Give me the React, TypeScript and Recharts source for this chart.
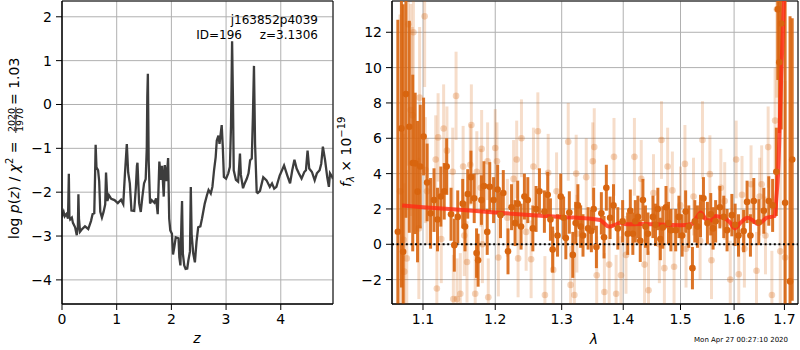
import React from 'react';
import {
  LineChart,
  ComposedChart,
  Line,
  Scatter,
  ErrorBar,
  XAxis,
  YAxis,
  CartesianGrid,
  ReferenceLine,
  ReferenceArea
} from 'recharts';

// ---- left panel: log p(z) ----
const zValues = [
  0, 0.01, 0.03, 0.05, 0.08, 0.11, 0.125, 0.135, 0.15, 0.18, 0.2, 0.24, 0.27, 0.29, 0.3, 0.31, 0.33, 0.36,
  0.42, 0.48, 0.53, 0.56, 0.59, 0.605, 0.615, 0.63, 0.66, 0.68, 0.7, 0.73, 0.76, 0.79, 0.805, 0.815, 0.83, 0.86,
  0.9, 0.96, 1.02, 1.08, 1.12, 1.15, 1.175, 1.185, 1.21, 1.24, 1.27, 1.32, 1.35, 1.37, 1.38, 1.41, 1.44, 1.47,
  1.5, 1.53, 1.55, 1.56, 1.57, 1.585, 1.61, 1.64, 1.69, 1.72, 1.75, 1.78, 1.81, 1.83, 1.86, 1.88, 1.91, 1.94,
  1.96, 1.98, 2.01, 2.03, 2.05, 2.08, 2.13, 2.145, 2.165, 2.185, 2.195, 2.21, 2.235, 2.26, 2.29, 2.31, 2.34, 2.355,
  2.37, 2.4, 2.43, 2.46, 2.49, 2.53, 2.56, 2.61, 2.65, 2.68, 2.72, 2.75, 2.78, 2.81, 2.83, 2.86, 2.88, 2.92,
  2.94, 2.96, 3.0, 3.04, 3.07, 3.09, 3.11, 3.125, 3.14, 3.18, 3.22, 3.24, 3.254, 3.27, 3.31, 3.34, 3.38, 3.41,
  3.44, 3.47, 3.49, 3.51, 3.53, 3.56, 3.58, 3.62, 3.68, 3.74, 3.8, 3.84, 3.88, 3.92, 3.98, 4.06, 4.12, 4.17,
  4.21, 4.25, 4.29, 4.33, 4.38, 4.43, 4.46, 4.49, 4.52, 4.57, 4.62, 4.66, 4.71, 4.74, 4.77, 4.81, 4.85, 4.88,
  4.9, 4.94, 4.955
];
const logPz = [
  -2.48, -2.52, -2.45, -2.55, -2.5, -2.6, -1.58, -2.55, -2.62, -2.58, -2.7, -2.8, -2.98, -2.8, -2.05, -2.6, -2.9, -2.85,
  -2.78, -2.84, -2.66, -2.5, -2.48, -1.6, -0.92, -1.43, -1.5, -1.75, -2.45, -2.58, -2.45, -2.28, -1.55, -1.8, -2.2, -2.07,
  -2.15, -2.18, -2.25, -2.17, -2.27, -1.6, -1.1, -0.9, -1.55, -1.8, -2.42, -2.43, -1.9, -1.4, -1.33, -2.25, -2.45, -2.1,
  -1.8, -1.7, -1.0, 0.2, 0.7, -1.3, -2.26, -2.18, -2.24, -2.14, -2.5, -1.3, -1.72, -1.4, -2.1, -1.38, -1.75, -1.22,
  -2.6, -2.87, -2.95, -3.42, -3.28, -3.03, -3.05, -3.48, -3.67, -2.6, -2.2, -3.4, -3.67, -3.75, -3.74, -3.56, -3.35, -1.88,
  -2.96, -3.4, -3.6, -3.13, -2.8, -2.78, -2.6, -2.26, -2.07, -1.95, -2.03, -1.88, -1.5, -1.2, -0.82, -0.71, -0.9, -0.47,
  -0.97, -1.65, -1.69, -1.57, -1.42, -0.5, 1.44, 0.2, -1.5, -1.72, -1.76, -1.4, -1.12, -1.6, -1.91, -1.8, -1.69, -1.57,
  -1.27, -1.23, -0.3, 0.88, -0.9, -2.0, -2.02, -1.97, -1.66, -1.73, -1.88, -1.8, -1.92, -1.88, -1.62, -1.39, -1.62, -1.8,
  -1.5, -1.26, -1.46, -1.57, -1.69, -1.54, -1.5, -1.05, -1.46, -1.54, -1.73, -1.57, -1.5, -1.35, -0.96, -1.27, -1.66, -1.88,
  -1.57, -1.65, -1.7
];
const zTicks = [0, 1, 2, 3, 4];
const logPzTicks = [-4, -3, -2, -1, 0, 1, 2];

// ---- right panel: spectrum ----
// darker orange points (wavelength in microns, flux, 1-sigma error)
const darkWave = [
  1.0672, 1.0718, 1.074, 1.0776, 1.082, 1.0865, 1.0897, 1.0928, 1.0964, 1.1008, 1.1055, 1.1101, 1.1147, 1.1194,
  1.1239, 1.1285, 1.1318, 1.1378, 1.1423, 1.147, 1.1539, 1.1571, 1.1609, 1.1654, 1.17, 1.1733, 1.1755, 1.1802,
  1.1838, 1.1885, 1.1921, 1.1976, 1.2035, 1.2076, 1.2117, 1.2186, 1.2238, 1.229, 1.2329, 1.2379, 1.2429, 1.248,
  1.2556, 1.2605, 1.2656, 1.2732, 1.2783, 1.2825, 1.2859, 1.2935, 1.2985, 1.303, 1.3065, 1.312, 1.3175, 1.322,
  1.3256, 1.33, 1.3338, 1.342, 1.3473, 1.351, 1.3555, 1.3636, 1.368, 1.3718, 1.378, 1.3837, 1.3909, 1.399,
  1.4076, 1.412, 1.4163, 1.4205, 1.425, 1.429, 1.4336, 1.438, 1.4423, 1.451, 1.4555, 1.4596, 1.464, 1.4683,
  1.474, 1.4785, 1.4827, 1.4913, 1.4971, 1.503, 1.5093, 1.515, 1.5217, 1.526, 1.5309, 1.5365, 1.542, 1.5494,
  1.5556, 1.56, 1.5648, 1.5728, 1.5802, 1.5865, 1.5957, 1.602, 1.6085, 1.6185, 1.6252, 1.6318, 1.6384, 1.6483,
  1.6583, 1.6682, 1.676, 1.6835, 1.6865, 1.6895, 1.6935, 1.7014, 1.7115, 1.716
];
const darkFlux = [
  0.71, 6.56, -0.42, 8.5, 6.65, 4.6, 4.58, 2.98, 4.4, 6.1, 3.5, 1.75, 2.5, 1.4,
  2.7, 3.0, 4.4, 1.7, -0.05, 1.55, 2.3, 1.0, 2.85, 3.8, 2.6, -0.5, -0.9, 2.5,
  3.3, 0.7, 3.25, 2.5, 3.1, 1.65, 2.9, -0.4, 2.1, 1.2, 2.3, 1.0, 2.7, 2.5,
  0.9, 2.0, 3.0, 1.85, 2.8, 1.4, -0.3, 0.5, 2.7, 1.5, 0.35, 1.8, -0.6, 1.2,
  2.2, 1.0, 0.5, 0.9, 0.75, 2.0, -0.15, 1.75, 0.4, 3.2, 1.5, 2.2, 0.9, 1.3,
  0.6, 1.9, 0.6, 1.3, 1.55, 0.2, 2.5, 1.0, 0.6, 1.55, 1.1, 2.0, 0.3, 0.95,
  2.1, 1.2, 0.8, 0.8, 1.55, 0.5, 1.85, 1.0, -1.35, 1.3, 1.0, 1.6, 2.6, 1.2,
  1.7, 0.9, 1.3, 2.1, 1.55, 0.8, 1.65, 1.1, 0.5, 0.75, 2.4, 0.5, 2.45, 1.25,
  1.9, 2.45, 2.2, 4.1, 13.3, 10.3, 12.5, 2.35, -2.1, 4.8
];
const darkErr = [
  12, 9, 14, 7, 6, 5, 4, 4, 3.5, 2.2, 2.2, 2, 1.8, 1.8,
  1.7, 1.6, 1.6, 1.5, 1.5, 1.5, 1.4, 1.4, 1.4, 1.5, 1.4, 1.4, 1.5, 1.4,
  1.4, 1.3, 1.4, 1.3, 1.4, 1.3, 1.3, 1.3, 1.3, 1.3, 1.3, 1.3, 1.3, 1.3,
  1.3, 1.3, 1.3, 1.2, 1.3, 1.2, 1.3, 1.2, 1.3, 1.2, 1.2, 1.2, 1.3, 1.2,
  1.2, 1.2, 1.2, 1.2, 1.2, 1.2, 1.2, 1.2, 1.2, 1.3, 1.2, 1.2, 1.2, 1.2,
  1.2, 1.2, 1.2, 1.2, 1.2, 1.2, 1.2, 1.2, 1.2, 1.2, 1.2, 1.2, 1.2, 1.2,
  1.2, 1.2, 1.2, 1.2, 1.2, 1.2, 1.2, 1.2, 1.2, 1.2, 1.2, 1.2, 1.2, 1.2,
  1.2, 1.2, 1.2, 1.2, 1.2, 1.2, 1.2, 1.2, 1.2, 1.2, 1.2, 1.2, 1.3, 1.3,
  1.3, 1.4, 1.5, 2.5, 4, 4, 6, 12, 15, 8
];

// lighter orange points (second orientation)
const lightWave = [
  1.07, 1.0745, 1.0755, 1.0787, 1.0807, 1.0839, 1.086, 1.0874, 1.0945, 1.0955, 1.1022, 1.1032, 1.1054, 1.117,
  1.1185, 1.1202, 1.1245, 1.1277, 1.1322, 1.1401, 1.141, 1.1447, 1.146, 1.1506, 1.1545, 1.1561, 1.1599, 1.1645,
  1.166, 1.1714, 1.1737, 1.1793, 1.1805, 1.1816, 1.189, 1.19, 1.2, 1.2025, 1.2045, 1.2177, 1.2268, 1.2314,
  1.2335, 1.2385, 1.2455, 1.253, 1.2565, 1.2632, 1.274, 1.279, 1.2868, 1.292, 1.3103, 1.314, 1.32, 1.3229,
  1.324, 1.339, 1.3495, 1.352, 1.356, 1.3686, 1.3765, 1.3845, 1.3881, 1.3962, 1.4047, 1.419, 1.4307, 1.4364,
  1.4433, 1.452, 1.4623, 1.466, 1.4711, 1.4769, 1.4854, 1.4884, 1.5, 1.508, 1.51, 1.5237, 1.5358, 1.5402,
  1.554, 1.557, 1.5747, 1.582, 1.5926, 1.604, 1.609, 1.6153, 1.62, 1.633, 1.6438, 1.65, 1.654, 1.6616,
  1.667, 1.6745, 1.681, 1.6845, 1.6915, 1.7014
];
const lightFlux = [
  3.0, 0.25, -1.55, -0.8, 12.45, 7.6, 7.3, 12.0, 0.9, 8.3, 12.9, 4.2, 3.0, 4.8,
  -2.5, 6.05, 0.3, 6.55, 5.3, 4.1, -3.1, 8.4, -3.1, -2.8, 4.4, 0.5, -1.0, 4.5,
  6.75, -2.8, 4.1, 3.2, 5.4, 0.0, 4.7, -3.0, 5.45, 4.7, -0.75, 1.5, 3.7, 4.8,
  -0.8, 6.0, 0.7, -0.85, 4.4, 6.4, -2.87, 4.05, -1.45, 3.0, 5.8, -2.3, -2.87, 4.0,
  0.6, 3.8, 4.7, 5.5, -1.75, -2.7, -1.15, 4.95, -2.8, -1.75, -0.6, 4.95, 3.7, -1.15,
  -2.6, 2.9, 0.0, 5.9, -1.35, 4.4, 3.05, -1.27, 2.2, 4.55, -0.25, 2.7, 0.2, 5.9,
  3.97, -0.9, 3.2, 2.45, -2.0, 4.8, -1.7, 2.8, -0.25, 3.4, -1.5, 2.7, 3.4, 0.5,
  5.5, -2.87, 7.0, 13.3, -0.4, -0.75
];
const lightErr = [
  10, 6, 5, 5, 8, 6, 5, 6, 4, 4, 4, 3, 3, 2.5,
  2.5, 2.5, 2.5, 2.5, 2.5, 2.5, 2.5, 2.5, 2.3, 2.3, 2.3, 2.3, 2.3, 2.3,
  2.3, 2.3, 2.3, 2.2, 2.2, 2.2, 2.2, 2.2, 2.2, 2.2, 2.2, 2.2, 2.2, 2.2,
  2.2, 2.2, 2.2, 2.2, 2.2, 2.2, 2.2, 2.2, 2.2, 2.2, 2.2, 2.2, 2.2, 2.2,
  2.2, 2.2, 2.2, 2.2, 2.2, 2.2, 2.2, 2.2, 2.2, 2.2, 2.2, 2.2, 2.2, 2.2,
  2.2, 2.2, 2.2, 2.2, 2.2, 2.2, 2.2, 2.2, 2.2, 2.2, 2.2, 2.2, 2.2, 2.2,
  2.2, 2.2, 2.2, 2.2, 2.2, 2.2, 2.2, 2.2, 2.2, 2.2, 2.2, 2.2, 2.2, 2.2,
  2.3, 2.5, 3, 5, 8, 10
];

// best-fit model
const modelWave = [
  1.0727, 1.1, 1.15, 1.2, 1.25, 1.3, 1.3616, 1.368, 1.376, 1.386, 1.3962, 1.405, 1.43, 1.4636, 1.5, 1.5206,
  1.528, 1.5369, 1.548, 1.5565, 1.5645, 1.5725, 1.581, 1.5915, 1.6016, 1.612, 1.626, 1.6366, 1.6466, 1.6555,
  1.6635, 1.6806, 1.6835, 1.687, 1.694, 1.7007
];
const modelFlux = [
  2.2, 2.1, 1.95, 1.8, 1.66, 1.55, 1.38, 1.2, 1.0, 1.1, 1.22, 1.13, 1.15, 1.12, 1.08, 1.15,
  1.45, 1.8, 1.37, 1.35, 1.6, 1.55, 1.5, 1.25, 0.9, 1.2, 1.5, 1.35, 1.15, 1.3,
  1.5, 1.6, 2.6, 4.0, 10.0, 15.0
];
const waveTicks = [1.1, 1.2, 1.3, 1.4, 1.5, 1.6, 1.7];
const fluxTicks = [-2, 0, 2, 4, 6, 8, 10, 12];

const F_MIN = -3.38;
const F_MAX = 13.77;

// error bars are cut at the plot edges, as matplotlib clips them
const clipErr = (f: number, e: number) => [
  Math.max(0, Math.min(e, f - F_MIN)),
  Math.max(0, Math.min(e, F_MAX - f))
];

const pzData = zValues.map((z, i) => ({ z, lnp: logPz[i] }));
const darkData = darkWave.map((w, i) => ({ w, f: darkFlux[i], e: clipErr(darkFlux[i], darkErr[i]) }));
const lightData = lightWave.map((w, i) => ({ w, f: lightFlux[i], e: clipErr(lightFlux[i], lightErr[i]) }));
const modelData = modelWave.map((w, i) => ({ w, f: modelFlux[i] }));

const FONT = 'DejaVu Sans';
const ORANGE = '#d8650f';
const tickStyle = { fill: '#000', fontSize: 14, fontFamily: FONT };
const minus = (v: number) => String(v).replace('-', '\u2212');

const lightDot = (props: any) => (
  <circle cx={props.cx} cy={props.cy} r={3.3} fill={ORANGE} fillOpacity={0.28} />
);
const darkDot = (props: any) => (
  <circle cx={props.cx} cy={props.cy} r={3.3} fill={ORANGE} />
);

const App: React.FC = () => {
  return (
    <div style={{ position: 'fixed', left: 0, top: 0, width: 800, height: 350, background: '#fff' }}>
      <div style={{ position: 'absolute', left: 0, top: 0 }}>
        <LineChart width={340} height={350} data={pzData} margin={{ top: 1, right: 7, bottom: 0, left: 0 }}>
          <CartesianGrid stroke="#b0b0b0" strokeWidth={1} />
          <XAxis
            dataKey="z"
            type="number"
            domain={[0, 4.955]}
            ticks={zTicks}
            allowDataOverflow
            height={46}
            tick={tickStyle}
            tickMargin={4}
            stroke="#000"
            tickLine={{ stroke: '#000' }}
          />
          <YAxis
            type="number"
            domain={[-4.55, 2.36]}
            ticks={logPzTicks}
            allowDataOverflow
            width={62}
            tick={tickStyle}
            tickMargin={4}
            tickFormatter={minus}
            stroke="#000"
            tickLine={{ stroke: '#000' }}
          />
          <Line
            type="linear"
            dataKey="lnp"
            stroke="#3d3d3d"
            strokeWidth={2.3}
            dot={false}
            isAnimationActive={false}
          />
          <ReferenceArea x1={0} x2={4.955} y1={-4.55} y2={2.36} fill="none" stroke="#000" strokeWidth={1} fillOpacity={0} />
        </LineChart>
      </div>
      <div style={{ position: 'absolute', left: 340, top: 0 }}>
        <ComposedChart width={460} height={350} margin={{ top: 1, right: 2, bottom: 0, left: 0 }}>
          <CartesianGrid stroke="#b0b0b0" strokeWidth={1} />
          <XAxis
            dataKey="w"
            type="number"
            scale="log"
            domain={[1.0597, 1.728]}
            ticks={waveTicks}
            allowDataOverflow
            height={46}
            tick={tickStyle}
            tickMargin={4}
            stroke="#000"
            tickLine={{ stroke: '#000' }}
          />
          <YAxis
            dataKey="f"
            type="number"
            domain={[F_MIN, F_MAX]}
            ticks={fluxTicks}
            allowDataOverflow
            width={52}
            tick={tickStyle}
            tickMargin={4}
            tickFormatter={minus}
            stroke="#000"
            tickLine={{ stroke: '#000' }}
          />
          <Scatter data={lightData} shape={lightDot} isAnimationActive={false}>
            <ErrorBar dataKey="e" direction="y" width={0} stroke="rgba(216,101,15,0.22)" strokeWidth={3} isAnimationActive={false} />
          </Scatter>
          <Scatter data={darkData} shape={darkDot} isAnimationActive={false}>
            <ErrorBar dataKey="e" direction="y" width={0} stroke="rgba(216,101,15,0.9)" strokeWidth={3} isAnimationActive={false} />
          </Scatter>
          <Line
            data={modelData}
            type="monotone"
            dataKey="f"
            stroke="#ff2a14"
            strokeOpacity={0.8}
            strokeWidth={4}
            dot={false}
            isAnimationActive={false}
          />
          <ReferenceLine y={0} stroke="#000" strokeWidth={2} strokeDasharray="2 2.6" />
          <ReferenceArea x1={1.0597} x2={1.728} y1={F_MIN} y2={F_MAX} fill="none" stroke="#000" strokeWidth={1} fillOpacity={0} />
        </ComposedChart>
      </div>
      <svg
        width={800}
        height={350}
        style={{ position: 'absolute', left: 0, top: 0, pointerEvents: 'none' }}
        fontFamily={FONT}
      >
        <text x={318} y={24} fontSize={12} textAnchor="end">j163852p4039</text>
        <text x={242} y={39} fontSize={12} textAnchor="end">ID=196</text>
        <text x={318} y={39} fontSize={12} textAnchor="end">z=3.1306</text>
        <text x={197} y={343} fontSize={14} fontStyle="italic" textAnchor="middle">z</text>
        <text x={594} y={344} fontSize={14} fontStyle="italic" textAnchor="middle">λ</text>
        <text x={788} y={342} fontSize={7} textAnchor="end">Mon Apr 27 00:27:10 2020</text>
        <g transform="translate(19,239) rotate(-90)">
          <text x={0} y={0} fontSize={14}>
            log <tspan fontStyle="italic">p</tspan>(<tspan fontStyle="italic">z</tspan>) / <tspan fontStyle="italic">χ</tspan>
            <tspan fontSize={10} dy={-6}>2</tspan>
            <tspan dy={6}> =</tspan>
          </text>
          <text x={119} y={-4.5} fontSize={9.5} textAnchor="middle">2020</text>
          <line x1={106} x2={132} y1={-3.2} y2={-3.2} stroke="#000" strokeWidth={0.8} />
          <text x={119} y={4} fontSize={9.5} textAnchor="middle">1970</text>
          <text x={134} y={0} fontSize={14}>= 1.03</text>
        </g>
        <g transform="translate(351,187) rotate(-90)">
          <text x={0} y={0} fontSize={14}>
            <tspan fontStyle="italic">f</tspan>
            <tspan fontSize={10} dy={3} fontStyle="italic">λ</tspan>
            <tspan dy={-3}> × 10</tspan>
            <tspan fontSize={10} dy={-6}>−19</tspan>
          </text>
        </g>
      </svg>
    </div>
  );
};

export default App;
